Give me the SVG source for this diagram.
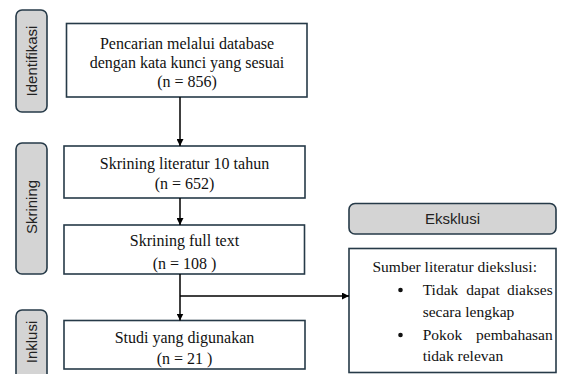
<svg xmlns="http://www.w3.org/2000/svg" width="564" height="374" viewBox="0 0 564 374">
<style>
.box{fill:#fff;stroke:#263a48;stroke-width:1.6}
.tag{fill:#d4d4d4;stroke:#263a48;stroke-width:1.6}
.sr{font-family:"Liberation Serif","Times New Roman",serif;font-size:16px;fill:#111}
.sx{font-family:"Liberation Serif","Times New Roman",serif;font-size:15.5px;fill:#111}
.ss{font-family:"Liberation Sans",Arial,sans-serif;font-size:15px;fill:#222}
.c{text-anchor:middle}
.e{text-anchor:end}
.ln{stroke:#000;stroke-width:1.5;fill:none}
</style>
<defs>
<marker id="ah" viewBox="0 0 10 10" refX="10" refY="5" markerWidth="7" markerHeight="7" markerUnits="userSpaceOnUse" orient="auto">
<path d="M0,0 L10,5 L0,10 z" fill="#000"/>
</marker>
</defs>
<g id="stage-identifikasi">
<rect class="tag" x="16" y="10" width="31" height="102" rx="6"/>
<text class="ss c" transform="translate(36.5,61) rotate(-90)">Identifikasi</text>
</g>
<g id="stage-skrining">
<rect class="tag" x="16" y="143" width="31" height="131" rx="6"/>
<text class="ss c" transform="translate(36.5,207) rotate(-90)">Skrining</text>
</g>
<g id="stage-inklusi">
<rect class="tag" x="16" y="310" width="31" height="100" rx="6"/>
<text class="ss c" transform="translate(36.5,342) rotate(-90)">Inklusi</text>
</g>
<g id="stage-eksklusi">
<rect class="tag" x="349" y="203.5" width="207" height="30.5" rx="6"/>
<text class="ss c" x="452.5" y="224">Eksklusi</text>
</g>
<g id="n1">
<rect class="box" x="66.5" y="23.5" width="240.5" height="73.5"/>
<text class="sr c" x="187" y="48.5">Pencarian melalui database</text>
<text class="sr c" x="187" y="68">dengan kata kunci yang sesuai</text>
<text class="sr c" x="187" y="87">(n = 856)</text>
</g>
<g id="n2">
<rect class="box" x="64" y="146" width="241" height="52"/>
<text class="sr c" x="184.5" y="168.5">Skrining literatur 10 tahun</text>
<text class="sr c" x="184.5" y="189">(n = 652)</text>
</g>
<g id="n3">
<rect class="box" x="64" y="225" width="240.5" height="49"/>
<text class="sr c" x="184.5" y="246">Skrining full text</text>
<text class="sr c" x="184.5" y="268.5">(n = 108 )</text>
</g>
<g id="n4">
<rect class="box" x="64" y="320.5" width="241" height="48.5"/>
<text class="sr c" x="184.5" y="342.5">Studi yang digunakan</text>
<text class="sr c" x="184.5" y="364">(n = 21 )</text>
</g>
<g id="n5">
<rect class="box" x="349" y="248.5" width="207" height="124"/>
<text class="sx" x="372.5" y="271.5">Sumber literatur diekslusi:</text>
<circle cx="400.5" cy="290" r="2.3" fill="#111"/>
<text class="sx" x="422.7" y="294.5">Tidak</text>
<text class="sx" x="466.3" y="294.5">dapat</text>
<text class="sx e" x="552.7" y="294.5">diakses</text>
<text class="sx" x="422.7" y="317">secara lengkap</text>
<circle cx="400.5" cy="335" r="2.3" fill="#111"/>
<text class="sx" x="422.7" y="339.5">Pokok</text>
<text class="sx e" x="552.7" y="339.5">pembahasan</text>
<text class="sx" x="422.7" y="361">tidak relevan</text>
</g>
<g id="connectors">
<line class="ln" x1="180" y1="97" x2="180" y2="146" marker-end="url(#ah)"/>
<line class="ln" x1="180" y1="198" x2="180" y2="225" marker-end="url(#ah)"/>
<line class="ln" x1="180" y1="274" x2="180" y2="320.5" marker-end="url(#ah)"/>
<line class="ln" x1="180" y1="296" x2="349" y2="296" marker-end="url(#ah)"/>
</g>
</svg>
